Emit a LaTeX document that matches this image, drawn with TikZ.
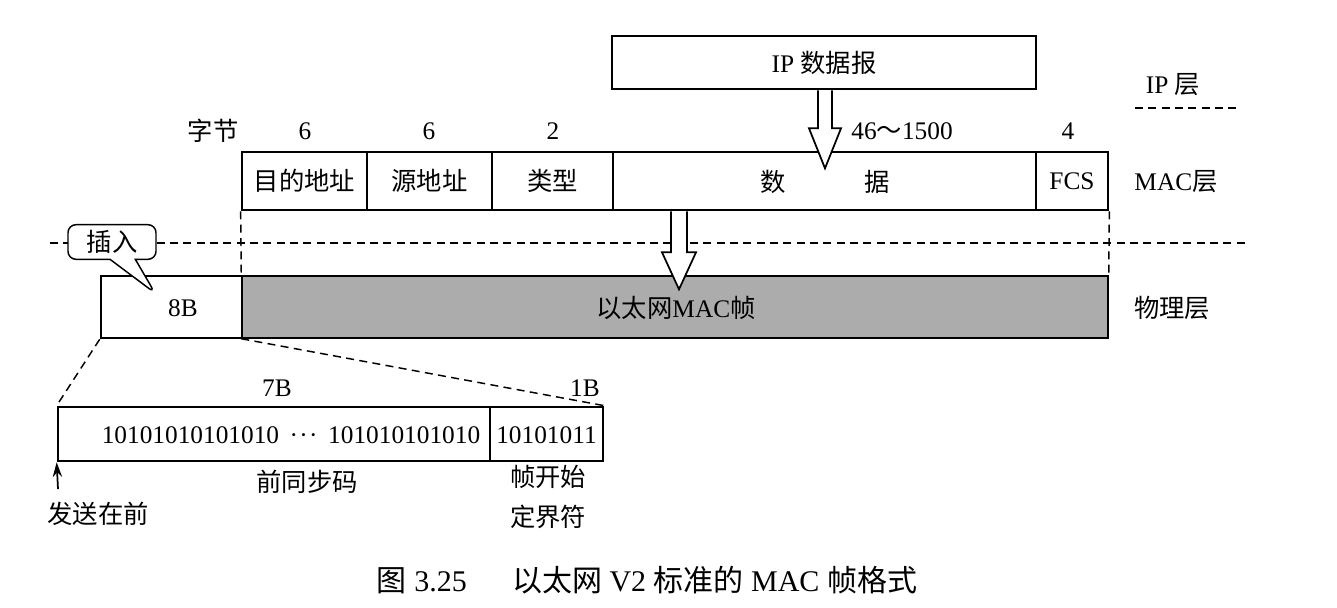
\documentclass[tikz,border=0pt]{standalone}
\usepackage{fontspec}
\setmainfont{Liberation Serif}
\newfontfamily\cjk{Noto Sans CJK SC}
\usetikzlibrary{fit,shapes.callouts,calc,arrows.meta}
\newcommand\zh[1]{{\cjk #1}}
\definecolor{graybox}{RGB}{172,172,172}
\begin{document}
\begin{tikzpicture}[x=0.75pt,y=-0.75pt,
  font=\fontsize{19}{22.5}\selectfont,
  cell/.style={draw, line width=1.1pt, inner sep=0pt},
  frame/.style={draw, line width=2pt, inner sep=0pt},
  lbl/.style={inner sep=0pt, anchor=center},
  dsh/.style={line width=1.1pt, dash pattern=on 6pt off 4pt},
  hollow/.style={draw, fill=white, line width=1.3pt, line join=miter}]
\useasboundingbox (0,0) rectangle (1337,607);

% IP layer
\node[frame, fit={(612,36)(1036,89)}] (ip) {};
\node[lbl] (iptext) at (ip.center) {IP \zh{数据报}};
\node[lbl] (iplayer) at (1173,85) {IP \zh{层}};
\coordinate (ipdl) at (1135,108);
\coordinate (ipdr) at (1240,108);
\draw[dsh] (ipdl) -- (ipdr);

% byte counts
\node[lbl] (bytes) at (213,131) {\zh{字节}};
\node[lbl] (b1) at (305,131) {6};
\node[lbl] (b2) at (429,131) {6};
\node[lbl] (b3) at (553,131) {2};
\node[lbl] (b4) at (902,131) {46\zh{～}1500};
\node[lbl] (b5) at (1068,131) {4};

% MAC row
\node[cell, fit={(242,152)(367,210)}] (dst) {};
\node[cell, fit={(367,152)(492,210)}] (src) {};
\node[cell, fit={(492,152)(613,210)}] (type) {};
\node[cell, fit={(613,152)(1036,210)}] (data) {};
\node[cell, fit={(1036,152)(1108,210)}] (fcs) {};
\node[frame, fit={(242,152)(1108,210)}] (mac) {};
\node[lbl] (dstt) at (dst.center) {\zh{目的地址}};
\node[lbl] (srct) at (src.center) {\zh{源地址}};
\node[lbl] (typet) at (type.center) {\zh{类型}};
\node[lbl] (datat) at ($(data.center)+(1,1)$) {\zh{数}\hspace{59pt}\zh{据}};
\node[lbl] (fcst) at (fcs.center) {FCS};
\node[lbl] (maclayer) at (1176,182) {MAC\zh{层}};

% layer separator
\coordinate (sepl) at (50,243);
\coordinate (sepr) at (1247,243);
\draw[dsh] (sepl) -- (sepr);

% physical row
\node[cell, fit={(101,276)(242,338)}] (pre8) {};
\node[cell, fill=graybox, fit={(242,276)(1108,338)}] (eth) {};
\node[frame, fit={(101,276)(1108,338)}] (phys) {};
\node[lbl] (etht) at ($(eth.center)+(1,1)$) {\zh{以太网}MAC\zh{帧}};
\node[lbl] (eightb) at (183,308) {8B};
\node[lbl] (physlayer) at (1172,308) {\zh{物理层}};

\draw[dsh] (mac.south west) -- (eth.north west);
\draw[dsh] (mac.south east) -- (eth.north east);

% callout
\node[draw, fill=white, rectangle callout, rounded corners=6pt, line width=1.1pt,
      minimum width=66pt, minimum height=26pt, inner sep=2pt,
      callout pointer width=19pt, callout absolute pointer={(155,293)}] (insert) at (112,242) {\zh{插入}};

% hollow arrows
\coordinate (a1) at ($(ip.south)+(1,0)$);
\draw[hollow] ($(a1)+(-7,0)$) -- ($(a1)+(-7,38)$) -- ($(a1)+(-16,38)$) -- ($(a1)+(0,78)$)
  -- ($(a1)+(16,38)$) -- ($(a1)+(7,38)$) -- ($(a1)+(7,0)$);
\coordinate (a2) at ($(mac.south)+(4,0)$);
\draw[hollow] ($(a2)+(-8,0)$) -- ($(a2)+(-8,41)$) -- ($(a2)+(-17,41)$) -- ($(a2)+(0,78)$)
  -- ($(a2)+(17,41)$) -- ($(a2)+(8,41)$) -- ($(a2)+(8,0)$);

% preamble detail
\node[cell, fit={(58,407)(490,461)}] (pa) {};
\node[cell, fit={(490,407)(603,461)}] (sfd) {};
\node[frame, fit={(58,407)(603,461)}] (pfr) {};
\node[lbl] (sfdt) at ($(sfd.center)+(0,1)$) {10101011};
\node[lbl] (patext) at (291,435) {10101010101010 \,·\kern1pt·\kern1pt·\, 101010101010};

\draw[dsh] (phys.south west) -- (pfr.north west);
\draw[dsh] (eth.south west) -- (pfr.north east);

\node[lbl] (sevenb) at (277,388) {7B};
\node[lbl] (oneb) at (585,388) {1B};
\node[lbl] (prename) at (307,482) {\zh{前同步码}};
\node[lbl, align=center] (sfdname) at (548,497) {\zh{帧开始}\\[7.5pt]\zh{定界符}};

\coordinate (send) at (58,489);
\draw[line width=1.3pt, -{Stealth[length=11pt,width=7pt]}] (send) -- (pfr.south west);
\node[lbl] (sendname) at (98,514) {\zh{发送在前}};

% caption
\node[lbl, font=\fontsize{22.5}{25}\selectfont] (cap) at (647,580)
  {\zh{图} 3.25\hspace{1.5em}\zh{以太网} V2 \zh{标准的} MAC \zh{帧格式}};
\end{tikzpicture}
\end{document}
